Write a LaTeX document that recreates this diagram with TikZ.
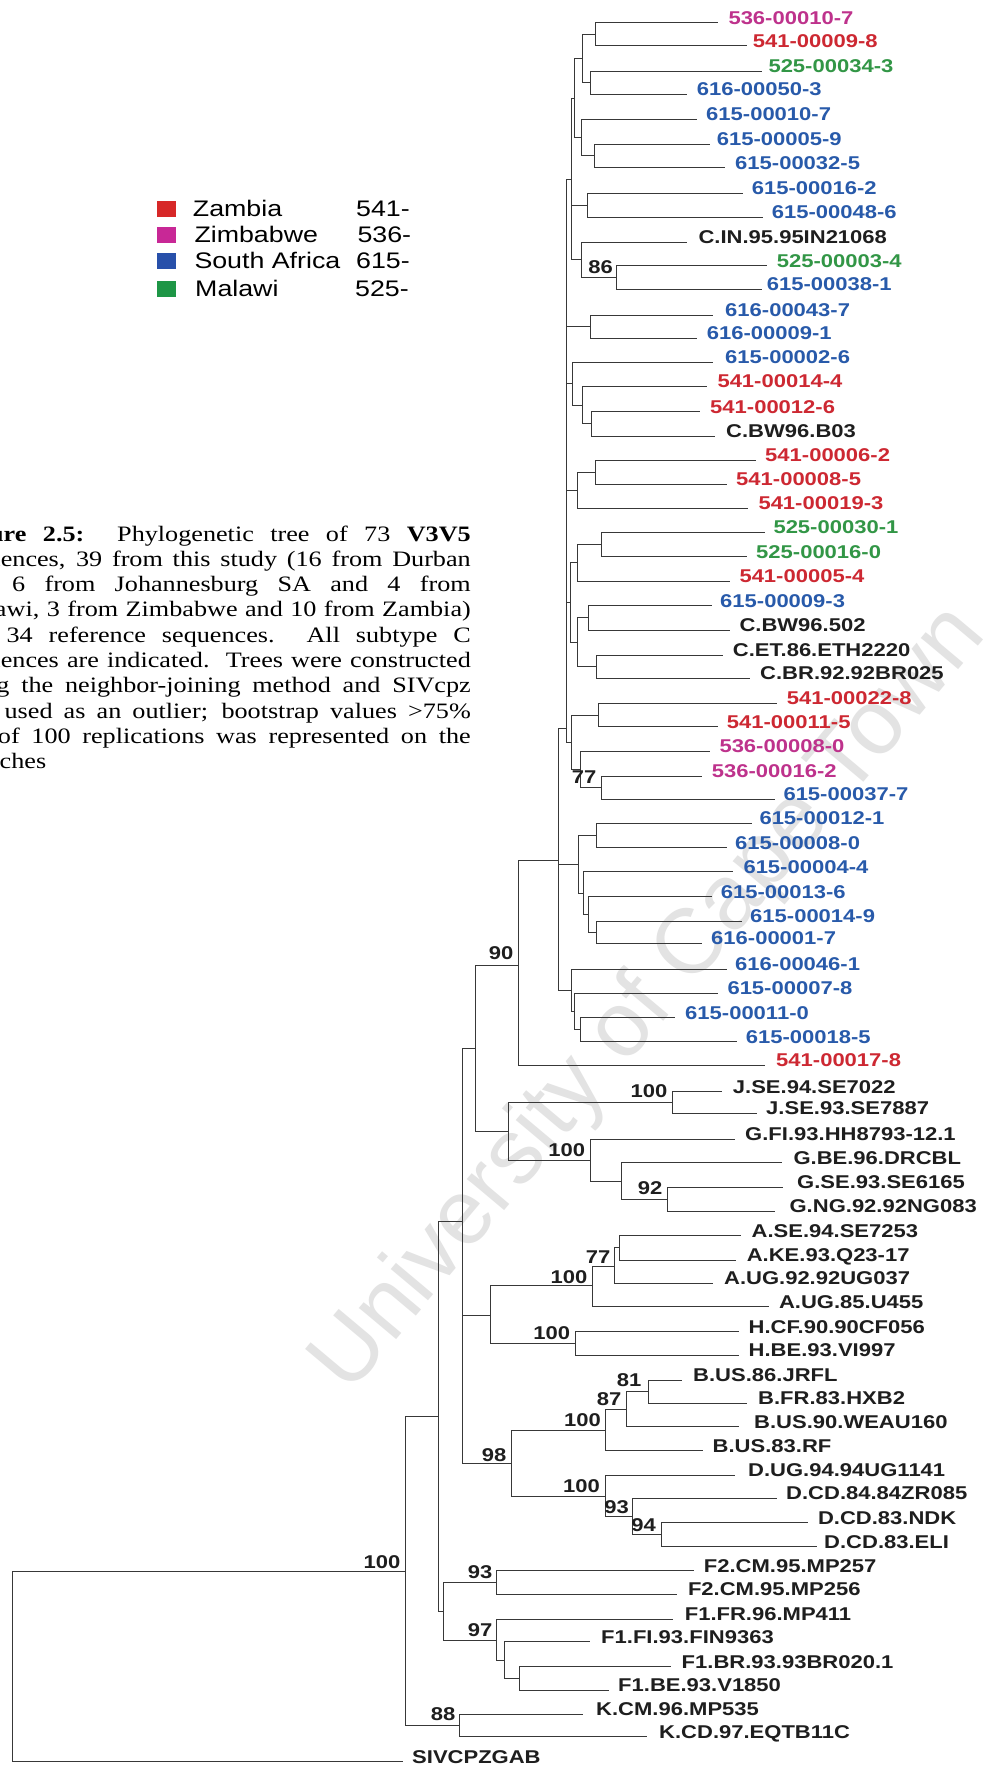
\documentclass[tikz,border=0pt]{standalone}
\usepackage{fontspec}
\setmainfont{Liberation Serif}
\newfontfamily\labfont[FakeStretch=1.19]{Liberation Sans}
\newfontfamily\capfont[FakeStretch=1.19]{Liberation Serif}
\newfontfamily\wmfont{Liberation Sans}
\definecolor{zamc}{RGB}{205,40,50}
\definecolor{zimc}{RGB}{190,50,140}
\definecolor{sac}{RGB}{40,90,170}
\definecolor{malc}{RGB}{50,150,70}
\definecolor{blk}{RGB}{30,30,30}
\definecolor{zamsq}{RGB}{215,40,40}
\definecolor{zimsq}{RGB}{200,40,150}
\definecolor{sasq}{RGB}{40,80,170}
\definecolor{malsq}{RGB}{30,150,70}
\newcommand\kids[2]{\foreach \c in {#2}{\draw[br] (#1) |- (\c);}}
\begin{document}
\begin{tikzpicture}[x=1pt,y=-1pt,
  br/.style={line width=0.95pt, draw=black!78},
  lab/.style={font=\labfont\bfseries\fontsize{18.5}{20}\selectfont, anchor=base west, inner sep=0pt},
  bs/.style={font=\labfont\bfseries\fontsize{18.5}{20}\selectfont, anchor=center, inner sep=0pt, text=blk},
  leg/.style={font=\labfont\fontsize{22.5}{24}\selectfont, anchor=base west, inner sep=0pt},
  sq/.style={minimum width=19pt, minimum height=16pt, inner sep=0pt, draw=none},
  capl/.style={font=\capfont\fontsize{22}{24}\selectfont, inner sep=0pt, text=black}]
\useasboundingbox (0,0) rectangle (994,1768);
\clip (0,0) rectangle (994,1768);
\fill[white] (0,0) rectangle (994,1768);
% watermark
\node[rotate=50, text=gray!22, font=\wmfont\fontsize{92}{92}\selectfont, inner sep=0pt] (wm) at (650,1000) {University of Cape Town};
% legend
\node[sq, fill=zamsq] (sq1) at (166.5,209) {};
\node[sq, fill=zimsq] (sq2) at (166.5,235.5) {};
\node[sq, fill=sasq] (sq3) at (166.5,261.5) {};
\node[sq, fill=malsq] (sq4) at (166.5,289) {};
\node[leg] (lg1) at (192.7,217) {Zambia};
\node[leg] (lg2) at (194.3,243) {Zimbabwe};
\node[leg] (lg3) at (194.3,269) {South Africa};
\node[leg] (lg4) at (195,297) {Malawi};
\node[leg] (lc1) at (356,217) {541-};
\node[leg] (lc2) at (357.3,243) {536-};
\node[leg] (lc3) at (356,269) {615-};
\node[leg] (lc4) at (355,297) {525-};
% caption
\node[capl, anchor=base east] (cap1) at (471,541) {\makebox[518pt][s]{\textbf{Figure 2.5:}\ \ Phylogenetic tree of 73 \textbf{V3V5}}};
\node[capl, anchor=base east] (cap2) at (471,566.3) {\makebox[518pt][s]{sequences, 39 from this study (16 from Durban}};
\node[capl, anchor=base east] (cap3) at (471,591.6) {\makebox[518pt][s]{SA, 6 from Johannesburg SA and 4 from}};
\node[capl, anchor=base east] (cap4) at (471,616.9) {\makebox[518pt][s]{Malawi, 3 from Zimbabwe and 10 from Zambia)}};
\node[capl, anchor=base east] (cap5) at (471,642.2) {\makebox[518pt][s]{and 34 reference sequences.\ \ All subtype C}};
\node[capl, anchor=base east] (cap6) at (471,667.5) {\makebox[518pt][s]{sequences are indicated.\ \ Trees were constructed}};
\node[capl, anchor=base east] (cap7) at (471,692.8) {\makebox[518pt][s]{using the neighbor-joining method and SIVcpz}};
\node[capl, anchor=base east] (cap8) at (471,718.1) {\makebox[518pt][s]{was used as an outlier; bootstrap values >75\%}};
\node[capl, anchor=base east] (cap9) at (471,743.4) {\makebox[518pt][s]{out of 100 replications was represented on the}};
\node[capl, anchor=base west] (cap10) at (-47,768.7) {branches};
% leaves
\foreach \k/\ex/\lx/\yy/\col/\txt in {
1/718.3/728.3/22.7/zimc/536-00010-7,
2/746.7/752.7/45.7/zamc/541-00009-8,
3/761.7/768.3/71/malc/525-00034-3,
4/686.7/696.7/94.3/sac/616-00050-3,
5/696.7/706/119.3/sac/615-00010-7,
6/710/716.7/144/sac/615-00005-9,
7/725/735/167.7/sac/615-00032-5,
8/743.3/751.7/193.3/sac/615-00016-2,
9/763.3/771.7/217.3/sac/615-00048-6,
10/686.7/698.3/242.3/blk/C.IN.95.95IN21068,
11/766.7/776.7/265.7/malc/525-00003-4,
12/761.7/766.7/289/sac/615-00038-1,
13/713.3/725/315/sac/616-00043-7,
14/696.7/706.7/338.3/sac/616-00009-1,
15/713.3/725/362/sac/615-00002-6,
16/706.7/717.3/386/zamc/541-00014-4,
17/700/710/411.7/zamc/541-00012-6,
18/715/726/436/blk/C.BW96.B03,
19/756/765/460/zamc/541-00006-2,
20/726.7/736/484/zamc/541-00008-5,
21/748.3/758.3/508.3/zamc/541-00019-3,
22/765/773.3/532.3/malc/525-00030-1,
23/746.7/756/556.7/malc/525-00016-0,
24/730/739.3/581/zamc/541-00005-4,
25/711.7/720/605.7/sac/615-00009-3,
26/730/739.3/630/blk/C.BW96.502,
27/723.3/732.7/655/blk/C.ET.86.ETH2220,
28/750/760/678.3/blk/C.BR.92.92BR025,
29/776.7/786.7/703.3/zamc/541-00022-8,
30/718.3/726.7/726.7/zamc/541-00011-5,
31/710/719.3/751/zimc/536-00008-0,
32/701.7/711.7/776/zimc/536-00016-2,
33/775/783.3/799.3/sac/615-00037-7,
34/751.7/759.3/823.3/sac/615-00012-1,
35/726.7/735/847.7/sac/615-00008-0,
36/733.3/743.3/871.7/sac/615-00004-4,
37/711.7/720.7/896.7/sac/615-00013-6,
38/741.7/750/921/sac/615-00014-9,
39/701.7/711/943.3/sac/616-00001-7,
40/726.7/735/969.3/sac/616-00046-1,
41/718.3/727.3/993.3/sac/615-00007-8,
42/675/685/1017.7/sac/615-00011-0,
43/736.7/745.7/1041.7/sac/615-00018-5,
44/765/776/1065/zamc/541-00017-8,
45/721.7/732.7/1091.7/blk/J.SE.94.SE7022,
46/756.7/766/1113.3/blk/J.SE.93.SE7887,
47/735/745/1139.3/blk/G.FI.93.HH8793-12.1,
48/781.7/793.3/1162.7/blk/G.BE.96.DRCBL,
49/783.3/797/1187.3/blk/G.SE.93.SE6165,
50/775/789.4/1211/blk/G.NG.92.92NG083,
51/741/751.5/1235.7/blk/A.SE.94.SE7253,
52/736.4/746.6/1260/blk/A.KE.93.Q23-17,
53/712.5/723.9/1283.3/blk/A.UG.92.92UG037,
54/769.3/778.8/1306.7/blk/A.UG.85.U455,
55/739/748.5/1331.7/blk/H.CF.90.90CF056,
56/739/748.5/1355/blk/H.BE.93.VI997,
57/682/693/1380/blk/B.US.86.JRFL,
58/746.6/758/1403.3/blk/B.FR.83.HXB2,
59/739/754/1426.7/blk/B.US.90.WEAU160,
60/703/712.5/1450.7/blk/B.US.83.RF,
61/735.3/748/1475/blk/D.UG.94.94UG1141,
62/776.6/786/1498.3/blk/D.CD.84.84ZR085,
63/808.2/817.8/1522.7/blk/D.CD.83.NDK,
64/816.5/824/1546.7/blk/D.CD.83.ELI,
65/694/703.7/1570.7/blk/F2.CM.95.MP257,
66/677/687.8/1594/blk/F2.CM.95.MP256,
67/673/684.6/1619/blk/F1.FR.96.MP411,
68/589.5/601/1641.7/blk/F1.FI.93.FIN9363,
69/670.7/681.5/1666.7/blk/F1.BR.93.93BR020.1,
70/608.6/618/1690/blk/F1.BE.93.V1850,
71/583/596/1714/blk/K.CM.96.MP535,
72/646.6/659/1736.7/blk/K.CD.97.EQTB11C,
73/402.5/412/1761.7/blk/SIVCPZGAB}{
  \coordinate (l\k) at (\ex,\yy);
  \node[lab, text=\col] (t\k) at (\lx,\yy+1.5) {\txt};
}
% internal nodes
\coordinate (r0) at (12.7,1571);
\coordinate (nR) at (405,1571);
\coordinate (nP3) at (438.3,1416.7);
\coordinate (nP2) at (462.7,1221.7);
\coordinate (nP1) at (475,1048.3);
\coordinate (n90) at (518.3,965);
\coordinate (nC) at (558.3,860);
\coordinate (nT) at (566,728);
\coordinate (nc) at (571,179);
\coordinate (nb) at (574,98);
\coordinate (a1234) at (582.3,58.3);
\coordinate (a12) at (595.7,34.2);
\coordinate (a34) at (590,82.7);
\coordinate (a567) at (581.7,137.6);
\coordinate (a67) at (594.3,155.9);
\coordinate (a89) at (587.3,205.3);
\coordinate (a1012) at (581.7,259.8);
\coordinate (a1112) at (616.7,277.4);
\coordinate (a1314) at (590,326.7);
\coordinate (a1518) at (572.7,383.3);
\coordinate (a1618) at (582.3,405);
\coordinate (a1718) at (591.7,423.9);
\coordinate (a1921) at (577.3,490);
\coordinate (a1920) at (595.7,472);
\coordinate (a2228) at (570,602.5);
\coordinate (a2224) at (577.3,562.8);
\coordinate (a2223) at (601,544.5);
\coordinate (a2528) at (577.3,642.2);
\coordinate (a2526) at (588.3,617.9);
\coordinate (a2728) at (596.7,666.7);
\coordinate (a2933) at (571.7,742);
\coordinate (a2930) at (598.3,715);
\coordinate (a3133) at (580,769.3);
\coordinate (a3233) at (601.7,787.7);
\coordinate (nS1) at (578.3,864.5);
\coordinate (a3435) at (596.7,835.5);
\coordinate (a3639) at (583.3,893);
\coordinate (a3739) at (588.3,914);
\coordinate (a3839) at (596,932.2);
\coordinate (nS2) at (571,990.4);
\coordinate (a4143) at (574.3,1011.5);
\coordinate (a4243) at (580,1029.7);
\coordinate (nJG) at (508.3,1131.5);
\coordinate (nJ) at (672.7,1102.5);
\coordinate (nG) at (590.7,1160.5);
\coordinate (nG2) at (621,1181);
\coordinate (nG3) at (667.3,1199.2);
\coordinate (nAH) at (490,1315);
\coordinate (nA) at (592.3,1285.5);
\coordinate (nA77) at (614.3,1266);
\coordinate (nA2) at (619.3,1247.8);
\coordinate (nH) at (575,1343.3);
\coordinate (nBD) at (511.7,1463.3);
\coordinate (nB) at (605,1430);
\coordinate (nB87) at (626.7,1409);
\coordinate (nB81) at (648.3,1391.7);
\coordinate (nD) at (605.4,1496.7);
\coordinate (nD93) at (632.6,1516.6);
\coordinate (nD94) at (661.2,1534.7);
\coordinate (nF) at (443.7,1611);
\coordinate (nF2) at (496.4,1582.3);
\coordinate (nF1) at (496.4,1640);
\coordinate (nF1b) at (504,1660);
\coordinate (nF1c) at (519.8,1678.3);
\coordinate (nK) at (459.6,1725.3);
% branches
\kids{r0}{nR,l73}
\kids{nR}{nP3,nK}
\kids{nP3}{nP2,nF}
\kids{nP2}{nP1,nAH,nBD}
\kids{nP1}{n90,nJG}
\kids{n90}{nC,l44}
\kids{nC}{nT,nS1,nS2}
\kids{nT}{nc,a1314,a1518,a1921,a2228,a2933}
\kids{nc}{nb,a89,a1012}
\kids{nb}{a1234,a567}
\kids{a1234}{a12,a34}
\kids{a12}{l1,l2}
\kids{a34}{l3,l4}
\kids{a567}{l5,a67}
\kids{a67}{l6,l7}
\kids{a89}{l8,l9}
\kids{a1012}{l10,a1112}
\kids{a1112}{l11,l12}
\kids{a1314}{l13,l14}
\kids{a1518}{l15,a1618}
\kids{a1618}{l16,a1718}
\kids{a1718}{l17,l18}
\kids{a1921}{a1920,l21}
\kids{a1920}{l19,l20}
\kids{a2228}{a2224,a2528}
\kids{a2224}{a2223,l24}
\kids{a2223}{l22,l23}
\kids{a2528}{a2526,a2728}
\kids{a2526}{l25,l26}
\kids{a2728}{l27,l28}
\kids{a2933}{a2930,a3133}
\kids{a2930}{l29,l30}
\kids{a3133}{l31,a3233}
\kids{a3233}{l32,l33}
\kids{nS1}{a3435,a3639}
\kids{a3435}{l34,l35}
\kids{a3639}{l36,a3739}
\kids{a3739}{l37,a3839}
\kids{a3839}{l38,l39}
\kids{nS2}{l40,a4143}
\kids{a4143}{l41,a4243}
\kids{a4243}{l42,l43}
\kids{nJG}{nJ,nG}
\kids{nJ}{l45,l46}
\kids{nG}{l47,nG2}
\kids{nG2}{l48,nG3}
\kids{nG3}{l49,l50}
\kids{nAH}{nA,nH}
\kids{nA}{nA77,l54}
\kids{nA77}{nA2,l53}
\kids{nA2}{l51,l52}
\kids{nH}{l55,l56}
\kids{nBD}{nB,nD}
\kids{nB}{nB87,l60}
\kids{nB87}{nB81,l59}
\kids{nB81}{l57,l58}
\kids{nD}{l61,nD93}
\kids{nD93}{l62,nD94}
\kids{nD94}{l63,l64}
\kids{nF}{nF2,nF1}
\kids{nF2}{l65,l66}
\kids{nF1}{l67,nF1b}
\kids{nF1b}{l68,nF1c}
\kids{nF1c}{l69,l70}
\kids{nK}{l71,l72}
% bootstrap values
\node[bs] (b86) at (600.5,267.5) {86};
\node[bs] (b77c) at (584,777) {77};
\node[bs] (b90) at (501,953) {90};
\node[bs] (b100j) at (649,1091) {100};
\node[bs] (b100g) at (566.7,1150) {100};
\node[bs] (b92) at (650,1188) {92};
\node[bs] (b77a) at (598,1257) {77};
\node[bs] (b100a) at (569,1277) {100};
\node[bs] (b100h) at (551.7,1333) {100};
\node[bs] (b81) at (629,1380) {81};
\node[bs] (b87) at (609,1399) {87};
\node[bs] (b100b) at (582.5,1420) {100};
\node[bs] (b98) at (494,1455) {98};
\node[bs] (b100d) at (581.5,1486) {100};
\node[bs] (b93d) at (616.5,1506.7) {93};
\node[bs] (b94) at (643.5,1525) {94};
\node[bs] (b100r) at (382,1561.7) {100};
\node[bs] (b93f) at (480,1571.7) {93};
\node[bs] (b97) at (480,1630) {97};
\node[bs] (b88) at (443,1714) {88};
\end{tikzpicture}
\end{document}
